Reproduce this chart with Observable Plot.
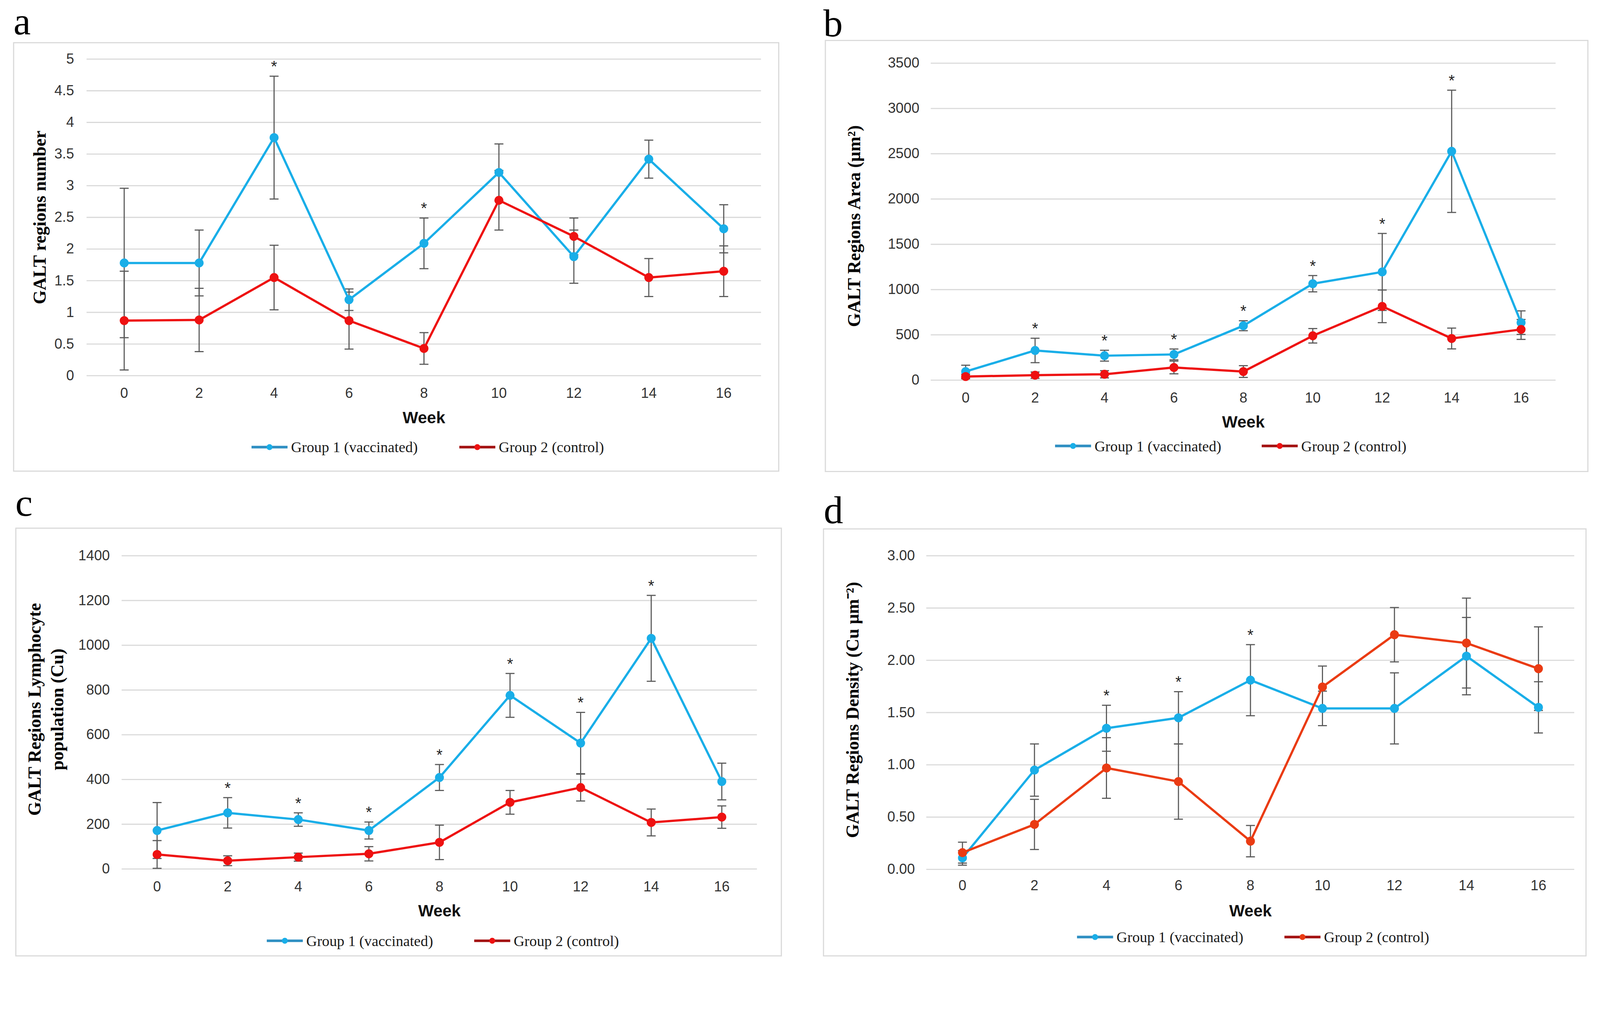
<!DOCTYPE html>
<html>
<head>
<meta charset="utf-8">
<script src="https://cdn.jsdelivr.net/npm/d3@7"></script>
<script src="https://cdn.jsdelivr.net/npm/@observablehq/plot@0.6"></script>
<style>
  html, body { margin: 0; padding: 0; background: #fff; overflow: hidden; }
  #page { position: relative; width: 4289px; height: 2597px; background: #fff; overflow: hidden; transform-origin: 0 0; }
  .box { position: absolute; box-sizing: border-box; border: 3px solid #d9d9d9; background: transparent; pointer-events: none; }
  .letter { position: absolute; font-family: "Liberation Serif", "Times New Roman", serif; font-size: 104px; line-height: 104px; color: #000; }
  .legend { position: absolute; height: 60px; display: flex; align-items: center; font-family: "Liberation Serif", "Times New Roman", serif; font-size: 40px; color: #1a1a1a; white-space: nowrap; }
  .legend svg { display: block; }
</style>
</head>
<body>
<div id="page"></div>
<script>
// ---------- data ----------
const weeks = [0, 2, 4, 6, 8, 10, 12, 14, 16];
const seriesNames = ["Group 1 (vaccinated)", "Group 2 (control)"];

// panel a: GALT regions number
const aG1    = [1.78, 1.78, 3.76, 1.20, 2.09, 3.21, 1.88, 3.42, 2.32];
const aG1Err = [1.18, 0.52, 0.97, 0.17, 0.40, 0.45, 0.42, 0.30, 0.38];
const aG2    = [0.87, 0.88, 1.55, 0.87, 0.43, 2.77, 2.20, 1.55, 1.65];
const aG2Err = [0.78, 0.50, 0.51, 0.45, 0.25, 0.47, 0.29, 0.30, 0.40];
const aStars = [4, 8];
const aYTicks = [0, 0.5, 1, 1.5, 2, 2.5, 3, 3.5, 4, 4.5, 5];

// panel b: GALT regions area (µm²)
const bG1    = [95, 328, 270, 284, 601, 1065, 1195, 2527, 635];
const bG1Err = [70, 135, 60, 60, 55, 90, 425, 675, 130];
const bG2    = [40, 55, 65, 140, 95, 490, 815, 460, 560];
const bG2Err = [25, 35, 40, 70, 65, 80, 180, 115, 110];
const bStars = [2, 4, 6, 8, 10, 12, 14];
const bYTicks = [0, 500, 1000, 1500, 2000, 2500, 3000, 3500];

// panel c: GALT regions lymphocyte population (Cu)
const cG1    = [172, 251, 221, 172, 409, 776, 563, 1031, 391];
const cG1Err = [125, 68, 30, 38, 58, 98, 137, 192, 82];
const cG2    = [65, 37, 53, 68, 119, 298, 364, 208, 232];
const cG2Err = [62, 22, 18, 32, 77, 53, 60, 60, 50];
const cStars = [2, 4, 6, 8, 10, 12, 14];
const cYTicks = [0, 200, 400, 600, 800, 1000, 1200, 1400];

// panel d: GALT regions density (Cu µm⁻²)
const dG1    = [0.11, 0.95, 1.35, 1.45, 1.81, 1.54, 1.54, 2.04, 1.55];
const dG1Err = [0.07, 0.25, 0.22, 0.25, 0.34, 0.165, 0.34, 0.37, 0.245];
const dG2    = [0.16, 0.43, 0.97, 0.84, 0.27, 1.745, 2.245, 2.165, 1.92];
const dG2Err = [0.10, 0.24, 0.29, 0.36, 0.15, 0.20, 0.26, 0.43, 0.40];
const dStars = [4, 6, 8];
const dYTicks = [0, 0.5, 1, 1.5, 2, 2.5, 3];

// ---------- styles ----------
const BLUE = "#19aee8";
const RED = "#ee1111";
const RED_D = "#ea3b13";
const ERR = "#595959";
const SANS = "'Liberation Sans', Arial, sans-serif";
const SERIF = "'Liberation Serif', 'Times New Roman', serif";

const capSymbol = {
  draw(ctx, size) {
    const w = Math.sqrt(size / Math.PI);
    ctx.moveTo(-w, 0);
    ctx.lineTo(w, 0);
  }
};

const page = document.getElementById("page");
function fitPage() {
  const s = Math.min(window.innerWidth / 4289, window.innerHeight / 2597);
  page.style.transform = (s > 0 && Math.abs(s - 1) > 0.002) ? `scale(${s})` : "none";
}
fitPage();
window.addEventListener("resize", fitPage);

function rows(vals, errs, group) {
  return weeks.map((w, i) => ({week: w, value: vals[i], err: errs[i], group}));
}

function panel(cfg) {
  const r1 = rows(cfg.g1, cfg.g1Err, "g1");
  const r2 = rows(cfg.g2, cfg.g2Err, "g2");
  const all = r1.concat(r2);
  const starRows = cfg.stars.map(w => {
    const i = weeks.indexOf(w);
    return {week: w, top: Math.max(cfg.g1[i] + cfg.g1Err[i], cfg.g2[i] + cfg.g2Err[i])};
  });
  const ml = cfg.xRange[0] - cfg.left;
  const mr = cfg.right - cfg.xRange[1];
  const mt = cfg.yRange[0] - cfg.top;
  const mb = cfg.svgBottom - cfg.yRange[1];
  const chart = Plot.plot({
    width: cfg.right - cfg.left,
    height: cfg.svgBottom - cfg.top,
    marginLeft: ml, marginRight: mr, marginTop: mt, marginBottom: mb,
    style: {background: "transparent", fontFamily: SANS, overflow: "visible", maxWidth: "none"},
    x: {domain: [-1, 17]},
    y: {domain: cfg.yDomain},
    marks: [
      Plot.gridY(cfg.yTicks, {stroke: "#d9d9d9", strokeOpacity: 1, strokeWidth: 3}),
      Plot.axisY(cfg.yTicks, {tickSize: 0, tickPadding: cfg.yPad, fontSize: 38, fill: "#333", label: null, tickFormat: cfg.tickFormat, fontFamily: SANS}),
      Plot.axisX(weeks, {tickSize: 0, tickPadding: cfg.xPad, fontSize: 38, fill: "#333", label: null, fontFamily: SANS}),
      Plot.ruleX(all, {x: "week", y1: d => d.value - d.err, y2: d => d.value + d.err, stroke: ERR, strokeWidth: 3}),
      Plot.dot(all, {x: "week", y: d => d.value + d.err, symbol: capSymbol, r: 12, fill: "none", stroke: ERR, strokeWidth: 3}),
      Plot.dot(all, {x: "week", y: d => d.value - d.err, symbol: capSymbol, r: 12, fill: "none", stroke: ERR, strokeWidth: 3}),
      Plot.line(r1, {x: "week", y: "value", stroke: BLUE, strokeWidth: 6}),
      Plot.dot(r1, {x: "week", y: "value", r: 12, fill: BLUE}),
      Plot.line(r2, {x: "week", y: "value", stroke: cfg.red, strokeWidth: 6}),
      Plot.dot(r2, {x: "week", y: "value", r: 12, fill: cfg.red}),
      Plot.text(starRows, {x: "week", y: "top", text: () => "*", dy: -25, fontSize: 42, fill: "#222", fontFamily: SANS}),
      Plot.text(["Week"], {frameAnchor: "bottom", text: d => d, dy: cfg.weekDy, lineAnchor: "middle", textAnchor: "middle", fontSize: 44, fontWeight: "bold", fill: "#111", fontFamily: SANS}),
      Plot.text([cfg.title], {frameAnchor: "left", text: d => d, rotate: -90, dx: cfg.titleDx, dy: cfg.titleDy, textAnchor: "middle", lineAnchor: "middle", fontSize: 48, fontWeight: "bold", fill: "#000", fontFamily: SERIF, lineHeight: 1.27})
    ]
  });
  chart.style.position = "absolute";
  chart.style.left = cfg.left + "px";
  chart.style.top = cfg.top + "px";
  page.appendChild(chart);

  const box = document.createElement("div");
  box.className = "box";
  box.style.left = cfg.left + "px";
  box.style.top = cfg.top + "px";
  box.style.width = (cfg.right - cfg.left) + "px";
  box.style.height = (cfg.bottom - cfg.top) + "px";
  page.appendChild(box);

  const letter = document.createElement("div");
  letter.className = "letter";
  letter.textContent = cfg.letter;
  letter.style.left = cfg.letterX + "px";
  letter.style.top = (cfg.letterBase - 87) + "px";
  page.appendChild(letter);

  const colors = [[BLUE, "#2f8fc2"], [cfg.red, "#a31212"]];
  seriesNames.forEach((name, k) => {
    const lg = document.createElement("div");
    lg.className = "legend";
    lg.style.left = cfg.legendX[k] + "px";
    lg.style.top = (cfg.legendY - 30) + "px";
    lg.innerHTML =
      `<svg width="97" height="30" viewBox="0 0 97 30"><line x1="0" y1="15" x2="97" y2="15" stroke="${colors[k][1]}" stroke-width="7"/><circle cx="48.5" cy="15" r="8" fill="${colors[k][0]}"/></svg>` +
      `<span style="margin-left:9px">${name}</span>`;
    page.appendChild(lg);
  });
}

const f1 = d3.format("");
const f2 = d3.format(".2f");

panel({
  letter: "a", letterX: 36, letterBase: 92,
  left: 35, top: 113, right: 2089, bottom: 1265, svgBottom: 1160,
  xRange: [232, 2040], yRange: [158, 1007], yDomain: [0, 5], yTicks: aYTicks, tickFormat: f1,
  g1: aG1, g1Err: aG1Err, g2: aG2, g2Err: aG2Err, stars: aStars, red: RED,
  yPad: 34, xPad: 32.6, weekDy: 113,
  title: "GALT regions number", titleDx: -129, titleDy: 0,
  legendX: [674, 1231], legendY: 1199
});

panel({
  letter: "b", letterX: 2207, letterBase: 97,
  left: 2211, top: 107, right: 4258, bottom: 1266, svgBottom: 1160,
  xRange: [2495, 4170], yRange: [169, 1019], yDomain: [0, 3500], yTicks: bYTicks, tickFormat: f1,
  g1: bG1, g1Err: bG1Err, g2: bG2, g2Err: bG2Err, stars: bStars, red: RED,
  yPad: 31, xPad: 33.6, weekDy: 113,
  title: "GALT Regions Area (µm²)", titleDx: -209, titleDy: 12,
  legendX: [2828, 3382], legendY: 1196
});

panel({
  letter: "c", letterX: 41, letterBase: 1383,
  left: 41, top: 1415, right: 2096, bottom: 2565, svgBottom: 2485,
  xRange: [326, 2029], yRange: [1490, 2330], yDomain: [0, 1400], yTicks: cYTicks, tickFormat: f1,
  g1: cG1, g1Err: cG1Err, g2: cG2, g2Err: cG2Err, stars: cStars, red: RED,
  yPad: 32, xPad: 33.6, weekDy: 113,
  title: "GALT Regions Lymphocyte\npopulation (Cu)", titleDx: -206.5, titleDy: -8,
  legendX: [715, 1271], legendY: 2523
});

panel({
  letter: "d", letterX: 2208, letterBase: 1403,
  left: 2206, top: 1417, right: 4253, bottom: 2565, svgBottom: 2480,
  xRange: [2483, 4220], yRange: [1490, 2331], yDomain: [0, 3], yTicks: dYTicks, tickFormat: f2,
  g1: dG1, g1Err: dG1Err, g2: dG2, g2Err: dG2Err, stars: dStars, red: RED_D,
  yPad: 31, xPad: 28.6, weekDy: 112,
  title: "GALT Regions Density (Cu µm⁻²)", titleDx: -201, titleDy: -7,
  legendX: [2887, 3443], legendY: 2513
});
</script>
</body>
</html>
